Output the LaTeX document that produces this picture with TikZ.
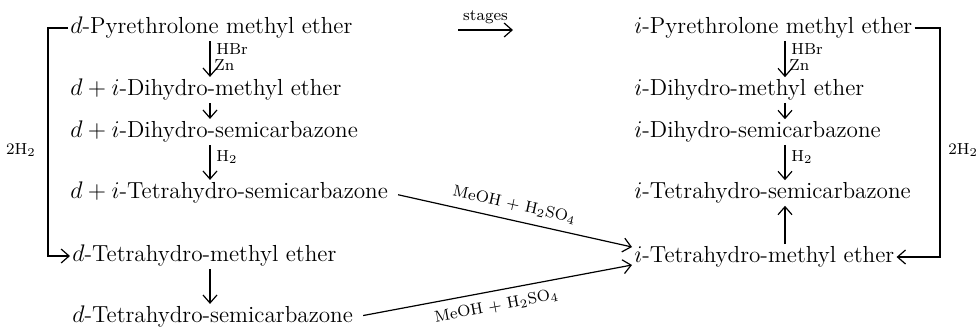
\documentclass[tikz,border=0pt]{standalone}
\usetikzlibrary{arrows.meta}

\tikzset{
  chem/.style={anchor=west, inner sep=1pt, font=\fontsize{11.6}{13}\selectfont},
  reag/.style={inner sep=1pt, font=\footnotesize},
  rxn/.style={-{Straight Barb[length=4pt,width=7pt]}, semithick},
}

\begin{document}
\begin{tikzpicture}[x=0.5pt, y=-0.5pt]
    \useasboundingbox (0,0) rectangle (980,328);

    % left column
    \node[chem] (dpyr) at (68,28) {$d$-Pyrethrolone methyl ether};
    \node[chem] (dhme) at (68,90) {$d + i$-Dihydro-methyl ether};
    \node[chem] (dhsc) at (68,132) {$d + i$-Dihydro-semicarbazone};
    \node[chem] (dtsc) at (68,193) {$d + i$-Tetrahydro-semicarbazone};
    \node[chem] (dtme) at (70,256) {$d$-Tetrahydro-methyl ether};
    \node[chem] (dtsd) at (70,317) {$d$-Tetrahydro-semicarbazone};

    % right column
    \node[chem] (ipyr) at (632,28) {$i$-Pyrethrolone methyl ether};
    \node[chem] (ihme) at (632,90) {$i$-Dihydro-methyl ether};
    \node[chem] (ihsc) at (632,132) {$i$-Dihydro-semicarbazone};
    \node[chem] (itsc) at (632,193) {$i$-Tetrahydro-semicarbazone};
    \node[chem] (itme) at (632,257) {$i$-Tetrahydro-methyl ether};

    % vertical steps, left
    \draw[rxn] (dpyr.south -| 210,0) -- (dhme.north -| 210,0);
    \node[reag, anchor=west] (lhbr) at (214,49) {HBr};
    \node[reag, anchor=west] (lzn) at (212,65) {Zn};
    \draw[rxn] (dhme.south -| 210,0) -- (dhsc.north -| 210,0);
    \draw[rxn] (dhsc.south -| 210,0) -- (dtsc.north -| 210,0);
    \node[reag, anchor=west] (lhh) at (214,157) {H$_2$};
    \draw[rxn] (dtme.south -| 210,0) -- (dtsd.north -| 210,0);

    % vertical steps, right
    \draw[rxn] (ipyr.south -| 785,0) -- (ihme.north -| 785,0);
    \node[reag, anchor=west] (rhbr) at (789,49) {HBr};
    \node[reag, anchor=west] (rzn) at (787,65) {Zn};
    \draw[rxn] (ihme.south -| 785,0) -- (ihsc.north -| 785,0);
    \draw[rxn] (ihsc.south -| 785,0) -- (itsc.north -| 785,0);
    \node[reag, anchor=west] (rhh) at (789,157) {H$_2$};
    \draw[rxn] (itme.north -| 785,0) -- (itsc.south -| 785,0);

    % stages arrow
    \coordinate (sa) at (458,30);
    \coordinate (sb) at (513,30);
    \draw[rxn] (sa) -- node[reag, above=2pt] (stg) {stages} (sb);

    % brackets, 2H2
    \coordinate (lbr) at (48,150);
    \draw[rxn] (dpyr.west) -| (lbr) |- (dtme.west);
    \node[reag, left=5pt] (lhh2) at (lbr) {2H$_2$};
    \coordinate (rbr) at (940,150);
    \draw[rxn] (ipyr.east) -| (rbr) |- (itme.east);
    \node[reag, right=3pt] (rhh2) at (rbr) {2H$_2$};

    % methanol / sulphuric acid
    \draw[rxn, shorten <=4pt] (dtsc.east) -- node[reag, sloped, above=3pt] (meo1) {MeOH + H$_2$SO$_4$} ([yshift=5pt]itme.west);
    \draw[rxn, shorten <=4pt] (dtsd.east) -- node[reag, sloped, below=3pt] (meo2) {MeOH + H$_2$SO$_4$} ([yshift=-4pt]itme.west);
\end{tikzpicture}
\end{document}
